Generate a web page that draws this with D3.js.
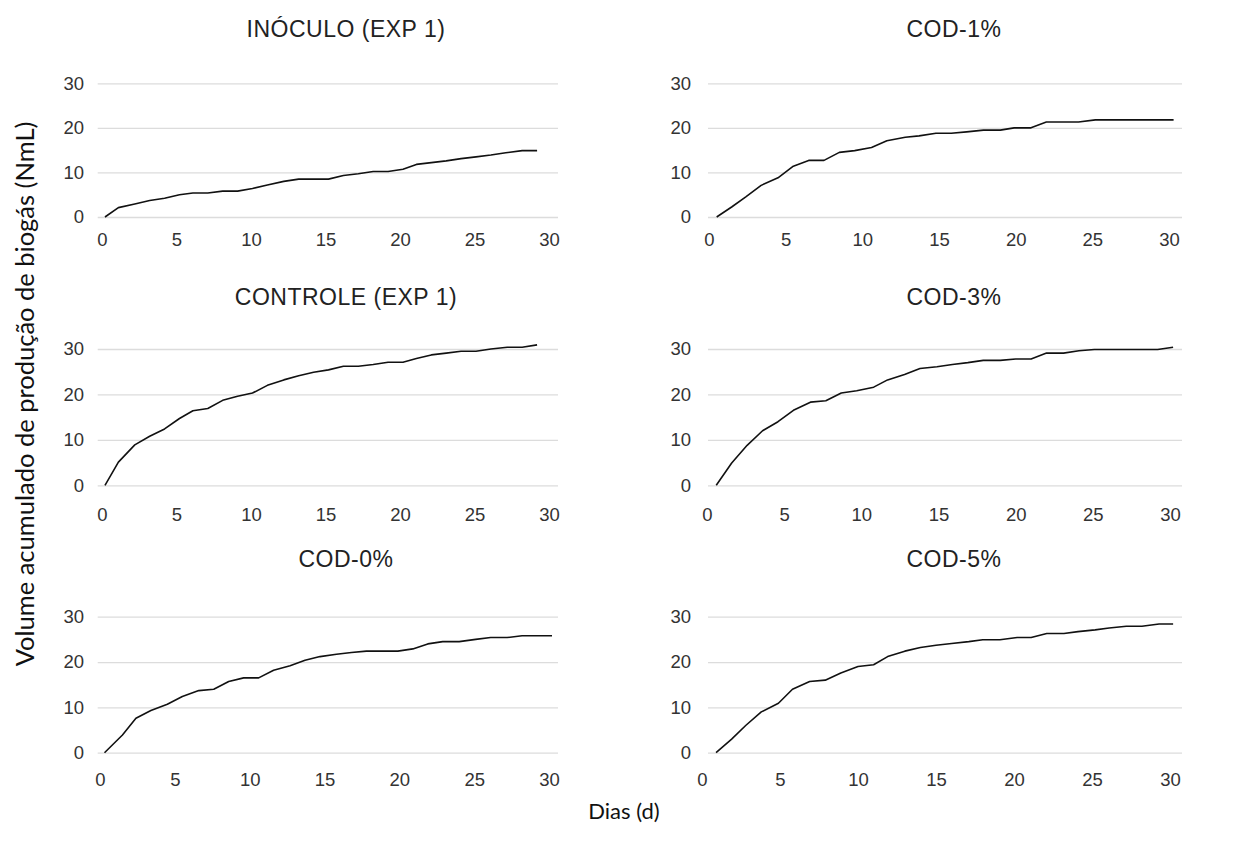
<!DOCTYPE html>
<html>
<head>
<meta charset="utf-8">
<script src="https://cdn.jsdelivr.net/npm/d3@7"></script>
<style>
  body { margin: 0; background: #fff; }
  svg { display: block; }
</style>
</head>
<body>
<div id="chart"></div>
<script>
// values
const xTicks = [0, 5, 10, 15, 20, 25, 30];
const yTicks = [0, 10, 20, 30];

const diasInoculo = [0.2, 1.1, 2.2, 3.2, 4.2, 5.2, 6.1, 7.1, 8.1, 9.1, 10.1, 11.1, 12.2, 13.2, 14.2, 15.2, 16.2, 17.2, 18.2, 19.2, 20.2, 21.1, 22.1, 23.1, 24.1, 25.1, 26.1, 27.1, 28.2, 29.2];
const volInoculo = [0, 2.1, 2.9, 3.7, 4.2, 5.0, 5.4, 5.4, 5.8, 5.8, 6.4, 7.2, 8.0, 8.5, 8.5, 8.5, 9.3, 9.7, 10.2, 10.2, 10.7, 11.8, 12.2, 12.6, 13.1, 13.5, 13.9, 14.4, 14.9, 14.9];

const diasCod1 = [0.5, 1.5, 2.4, 3.4, 4.5, 5.5, 6.5, 7.5, 8.5, 9.5, 10.6, 11.6, 12.8, 13.7, 14.8, 15.8, 16.8, 17.9, 19.0, 19.9, 21.0, 22.0, 23.0, 24.1, 25.2, 26.1, 27.1, 28.2, 29.3, 30.3];
const volCod1 = [0, 2.3, 4.5, 7.1, 8.8, 11.4, 12.7, 12.7, 14.5, 14.9, 15.6, 17.1, 17.9, 18.2, 18.8, 18.8, 19.1, 19.5, 19.5, 20.0, 20.0, 21.3, 21.3, 21.3, 21.8, 21.8, 21.8, 21.8, 21.8, 21.8];

const diasControle = [0.2, 1.1, 2.2, 3.2, 4.2, 5.2, 6.1, 7.1, 8.1, 9.1, 10.1, 11.1, 12.2, 13.2, 14.2, 15.2, 16.2, 17.2, 18.2, 19.2, 20.2, 21.1, 22.1, 23.1, 24.1, 25.1, 26.1, 27.2, 28.2, 29.2];
const volControle = [0, 5.1, 8.9, 10.8, 12.4, 14.7, 16.4, 16.9, 18.7, 19.6, 20.3, 22.0, 23.2, 24.1, 24.9, 25.4, 26.2, 26.2, 26.6, 27.1, 27.1, 27.9, 28.7, 29.1, 29.5, 29.5, 30.0, 30.4, 30.4, 30.9];

const diasCod3 = [0.6, 1.6, 2.6, 3.6, 4.6, 5.6, 6.7, 7.7, 8.7, 9.7, 10.8, 11.7, 12.8, 13.8, 14.9, 15.9, 16.9, 17.9, 19.0, 20.0, 21.0, 22.0, 23.1, 24.1, 25.1, 26.1, 27.2, 28.2, 29.2, 30.2];
const volCod3 = [0, 4.9, 8.8, 12.0, 14.0, 16.5, 18.3, 18.6, 20.3, 20.8, 21.6, 23.2, 24.4, 25.7, 26.1, 26.6, 27.0, 27.5, 27.5, 27.8, 27.8, 29.1, 29.1, 29.6, 29.9, 29.9, 29.9, 29.9, 29.9, 30.4];

const diasCod0 = [0.3, 1.5, 2.4, 3.4, 4.5, 5.5, 6.6, 7.6, 8.6, 9.6, 10.6, 11.6, 12.7, 13.7, 14.7, 15.8, 16.8, 17.8, 18.8, 19.9, 20.9, 21.9, 22.9, 24.0, 25.1, 26.1, 27.2, 28.2, 29.2, 30.2];
const volCod0 = [0, 3.9, 7.6, 9.3, 10.7, 12.4, 13.7, 14.0, 15.7, 16.5, 16.5, 18.2, 19.2, 20.4, 21.2, 21.7, 22.1, 22.4, 22.4, 22.4, 22.9, 24.0, 24.5, 24.5, 25.0, 25.4, 25.4, 25.8, 25.8, 25.8];

const diasCod5 = [0.9, 1.9, 2.8, 3.8, 4.9, 5.8, 6.9, 7.9, 8.9, 10.0, 11.0, 11.9, 13.0, 14.0, 15.0, 16.0, 17.1, 18.0, 19.1, 20.2, 21.1, 22.1, 23.2, 24.1, 25.2, 26.1, 27.2, 28.2, 29.3, 30.2];
const volCod5 = [0, 3.0, 6.0, 9.0, 10.9, 14.0, 15.7, 16.0, 17.6, 19.0, 19.4, 21.2, 22.4, 23.2, 23.7, 24.1, 24.5, 24.9, 24.9, 25.4, 25.4, 26.3, 26.3, 26.7, 27.1, 27.5, 27.9, 27.9, 28.4, 28.4];

const W = 1233, H = 841;

const panels = [
  { title: 'INÓCULO (EXP 1)', dias: diasInoculo, vol: volInoculo, xr: [102, 549], yr: [217, 83.3], grid: [97.7, 558], lab: 84, gap: 23, tx: 346, ty: 37 },
  { title: 'COD-1%', dias: diasCod1, vol: volCod1, xr: [709, 1169], yr: [217, 83.3], grid: [708, 1182], lab: 691, gap: 23, tx: 954, ty: 37 },
  { title: 'CONTROLE (EXP 1)', dias: diasControle, vol: volControle, xr: [102, 549], yr: [485.3, 349], grid: [97.7, 558], lab: 84, gap: 29, tx: 346, ty: 305 },
  { title: 'COD-3%', dias: diasCod3, vol: volCod3, xr: [707, 1170], yr: [485.3, 349], grid: [708, 1182], lab: 691, gap: 29, tx: 954, ty: 305 },
  { title: 'COD-0%', dias: diasCod0, vol: volCod0, xr: [100, 549], yr: [752.7, 616.7], grid: [97.7, 558], lab: 84, gap: 27, tx: 346, ty: 567 },
  { title: 'COD-5%', dias: diasCod5, vol: volCod5, xr: [702, 1170], yr: [752.7, 616.7], grid: [708, 1182], lab: 691, gap: 27, tx: 954, ty: 567 }
];

const svg = d3.select('#chart').append('svg').attr('width', W).attr('height', H);
svg.append('rect').attr('width', W).attr('height', H).attr('fill', '#fff');

const tickFont = '"Liberation Sans", Arial, sans-serif';

panels.forEach(p => {
  const x = d3.scaleLinear().domain([0, 30]).range(p.xr);
  const y = d3.scaleLinear().domain([0, 30]).range(p.yr);
  const g = svg.append('g');

  // gridlines
  const grid = g.append('g').attr('transform', `translate(${p.grid[0]},0)`)
    .call(d3.axisRight(y).tickValues(yTicks).tickSize(p.grid[1] - p.grid[0]).tickFormat(''));
  grid.select('.domain').remove();
  grid.selectAll('line').attr('stroke', '#dcdcdc').attr('stroke-width', 1.3);

  // y labels
  const ya = g.append('g').attr('transform', `translate(${p.lab},0)`)
    .call(d3.axisLeft(y).tickValues(yTicks).tickSize(0).tickPadding(0));
  ya.select('.domain').remove();
  ya.selectAll('text').style('font-family', tickFont).style('font-size', '18.5px').attr('fill', '#333');

  // x labels
  const xa = g.append('g').attr('transform', `translate(0,${p.yr[0] + p.gap})`)
    .call(d3.axisBottom(x).tickValues(xTicks).tickSize(0).tickPadding(0));
  xa.select('.domain').remove();
  xa.selectAll('text').attr('dy', '0.35em').style('font-family', tickFont).style('font-size', '18.5px').attr('fill', '#333');

  const line = d3.line().x((d, i) => x(p.dias[i])).y(d => y(d));
  g.append('path').datum(p.vol).attr('fill', 'none').attr('stroke', '#111').attr('stroke-width', 1.6)
    .attr('stroke-linejoin', 'round').attr('d', line);

  g.append('text').attr('x', p.tx).attr('y', p.ty).attr('text-anchor', 'middle')
    .style('font-family', tickFont).style('font-size', '23px').style('letter-spacing', '0.5px')
    .attr('fill', '#222').text(p.title);
});

svg.append('text').attr('transform', 'translate(34,394) rotate(-90)').attr('text-anchor', 'middle')
  .style('font-family', 'Lato, "Open Sans", sans-serif').style('font-size', '25.5px').attr('fill', '#111')
  .text('Volume acumulado de produção de biogás (NmL)');

svg.append('text').attr('x', 624).attr('y', 819).attr('text-anchor', 'middle')
  .style('font-family', 'Lato, "Open Sans", sans-serif').style('font-size', '22px').attr('fill', '#111')
  .text('Dias (d)');
</script>
</body>
</html>
